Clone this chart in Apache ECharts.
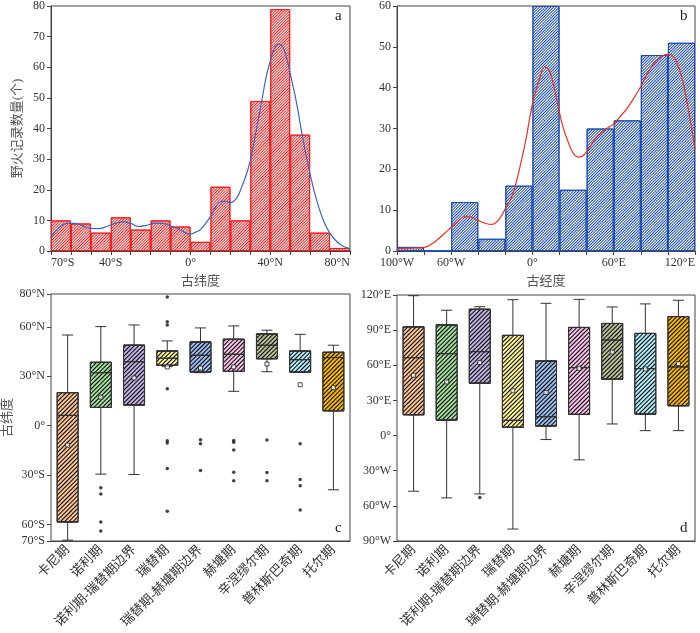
<!DOCTYPE html>
<html>
<head>
<meta charset="utf-8">
<script src="https://cdn.jsdelivr.net/npm/echarts@6/dist/echarts.min.js"></script>
<style>
  html, body { margin: 0; padding: 0; background: #fff; }
  #chart { width: 700px; height: 633px; }
</style>
</head>
<body>
<div id="chart"></div>
<script>
// ---- data ----
// a: paleolatitude histogram, 10 degree bins from 70S to 80N
var latBinStart = [-70, -60, -50, -40, -30, -20, -10, 0, 10, 20, 30, 40, 50, 60, 70];
var latCounts = [10, 9, 6, 11, 7, 10, 8, 3, 21, 10, 49, 79, 38, 6, 1];
var latCurve = [
	[-70, 4.5], [-66, 7.6], [-62, 9.0], [-58, 9.0], [-54, 8.2], [-50, 7.4], [-46, 7.3],
	[-42, 8.0], [-38, 9.0], [-34, 9.5], [-30, 9.0], [-26, 8.0], [-22, 8.4], [-18, 9.1],
	[-14, 9.0], [-10, 8.2], [-6, 7.2], [-2, 5.8], [0, 5.5], [2, 6.0], [5, 7.0], [10, 11.2],
	[14, 15.6], [17, 16.3], [20, 15.8], [23, 17.2], [25, 19.8], [28, 25], [30, 29.6],
	[32, 36], [34, 43], [36, 50], [38, 57], [40, 62], [42, 66], [44, 67.5], [46, 67],
	[48, 63.5], [50, 58], [53, 49], [56, 38], [60, 25], [64, 15], [68, 8], [72, 4],
	[76, 1.7], [80, 0.8]
];
var latTicks = [-70, -60, -50, -40, -30, -20, -10, 0, 10, 20, 30, 40, 50, 60, 70, 80];
var latLabels = [-70, -40, 0, 40, 80];

// b: paleolongitude histogram, 20 degree bins from 100W to 120E
var lonBinStart = [-100, -80, -60, -40, -20, 0, 20, 40, 60, 80, 100];
var lonCounts = [1, 0, 12, 3, 16, 60, 15, 30, 32, 48, 51];
var lonCurve = [
	[-100, 0.6], [-90, 0.7], [-80, 0.9], [-75, 1.6], [-70, 2.8], [-65, 4.3], [-60, 5.8],
	[-55, 7.3], [-50, 8.4], [-45, 8.3], [-40, 7.5], [-35, 6.8], [-30, 6.5], [-25, 7.6],
	[-20, 10.4], [-15, 13.5], [-10, 19.5], [-5, 27], [0, 36], [5, 42], [9, 45], [12, 44.5],
	[15, 41.5], [18, 37], [22, 31], [26, 27], [30, 24], [34, 23], [38, 23.5], [42, 25.3],
	[46, 27.3], [50, 28.7], [55, 30], [60, 31.2], [65, 33], [70, 35], [75, 37.5], [80, 40.3],
	[85, 43.5], [90, 46], [95, 47.6], [100, 48.2], [104, 47.6], [108, 45], [112, 40],
	[116, 33], [120, 25]
];
var lonTicks = [-100, -80, -60, -40, -20, 0, 20, 40, 60, 80, 100, 120];
var lonLabels = [-100, -60, 0, 60, 120];

// c, d: periods
var periods = ['卡尼期', '诺利期', '诺利期-瑞替期边界', '瑞替期', '瑞替期-赫塘期边界', '赫塘期', '辛涅缪尔期', '普林斯巴奇期', '托尔期'];
var periodColors = ['#f9c596', '#a4dca0', '#c2b2e2', '#fff49a', '#9cbcec', '#f7c2e8', '#b9bd98', '#b2ecf6', '#f5b800'];

// c: latitude box stats [min, Q1, median, Q3, max]
var latBox = [
	[-69.5, -58.4, 6.3, 20.1, 55.1],
	[-29.4, 11.1, 32.2, 38.5, 60.2],
	[-29.6, 12.6, 38.9, 48.9, 61.2],
	[35.9, 36.7, 41.0, 45.4, 51.5],
	[32.2, 32.6, 42.8, 50.9, 59.4],
	[20.9, 33.0, 43.4, 52.5, 60.6],
	[32.8, 40.7, 48.9, 55.7, 58.0],
	[32.6, 32.6, 40.1, 45.4, 55.5],
	[-38.9, 9.1, 41.4, 44.6, 48.9]
];
var latMean = [-11.8, 17.4, 29.0, 35.7, 35.0, 35.7, 37.5, 24.9, 23.1];
var latOutliers = [
	[1, -37.7], [1, -41.4], [1, -58.4], [1, -63.9],
	[3, 78.2], [3, 63.2], [3, 61.2], [3, 22.5], [3, -9.1], [3, -10.5], [3, -25.9], [3, -51.9],
	[4, -8.5], [4, -10.9], [4, -27.2],
	[5, -8.9], [5, -10.1], [5, -14.8], [5, -28.2], [5, -33.4],
	[6, -8.7], [6, -28.4], [6, -33.4],
	[7, -10.9], [7, -32.6], [7, -36.5], [7, -51.1]
];
var latAxisLabels = [-70, -60, -30, 0, 30, 60, 80];

// d: longitude box stats [min, Q1, median, Q3, max]
var lonBox = [
	[-47.5, 17.8, 66.5, 92.8, 119.4],
	[-53.2, 13.3, 69.9, 94.5, 107.0],
	[-49.8, 44.7, 71.6, 107.8, 110.0],
	[-79.8, 7.1, 13.0, 85.5, 116.0],
	[-3.4, 8.2, 16.1, 63.7, 112.9],
	[-20.7, 18.1, 58.0, 92.3, 116.3],
	[9.9, 48.1, 81.5, 95.7, 109.8],
	[4.2, 18.4, 57.2, 87.2, 112.4],
	[4.2, 25.5, 58.6, 101.6, 115.5]
];
var lonMean = [51.5, 45.8, 62.3, 38.2, 36.8, 57.4, 71.3, 56.9, 61.4];
var lonOutliers = [[2, -52.9]];

// ---- helpers ----
function fmtLat(v) {
	if (v > 0) return v + '°N';
	if (v < 0) return (-v) + '°S';
	return '0°';
}
function fmtLon(v) {
	if (v > 0) return v + '°E';
	if (v < 0) return (-v) + '°W';
	return '0°';
}
function hatch(color, gap) {
	return {
		symbol: 'rect',
		symbolSize: 1,
		dashArrayX: [1, 0],
		dashArrayY: [1, gap],
		rotation: -Math.PI / 4,
		color: color
	};
}

var FONT = "'Liberation Serif', 'Noto Sans CJK SC', serif";
var axisLineStyle = { onZero: false, lineStyle: { color: '#444', width: 1 } };
var labelStyle = { color: '#333', fontSize: 12, fontFamily: FONT };
var nameStyle = { color: '#555', fontSize: 13, fontFamily: FONT };

var histA = latBinStart.map(function (s, i) { return [s + 5, latCounts[i]]; });
var histB = lonBinStart.map(function (s, i) { return [s + 10, lonCounts[i]]; });

// wide box (Q1..Q3 with median) and narrow whiskers
function bodyData(stats) {
	return stats.map(function (s, i) {
		return { value: [s[1], s[1], s[2], s[3], s[3]], itemStyle: { color: periodColors[i] } };
	});
}
function whiskerData(stats) {
	return stats.map(function (s) { return [s[0], s[1], s[1], s[3], s[4]]; });
}
function meanData(means) {
	return means.map(function (m, i) { return [i, m]; });
}

var dom = document.getElementById('chart');
var myChart = echarts.init(dom, null, { renderer: 'canvas' });

function catAxis(gridIndex, show) {
	return {
		type: 'category',
		gridIndex: gridIndex,
		data: periods,
		show: show,
		boundaryGap: true,
		axisLine: axisLineStyle,
		axisTick: { alignWithLabel: true, length: 4, lineStyle: { color: '#444' } },
		axisLabel: {
			rotate: 45, color: '#333', fontSize: 13, fontFamily: FONT, interval: 0, margin: 7
		},
		splitLine: { show: false }
	};
}

var option = {
	animation: false,
	textStyle: { fontFamily: FONT },
	grid: [
		{ left: 51, top: 5, width: 299, height: 246, show: true, borderColor: '#444', borderWidth: 1 },
		{ left: 397, top: 5, width: 298, height: 246, show: true, borderColor: '#444', borderWidth: 1 },
		{ left: 50, top: 294, width: 300, height: 247, show: true, borderColor: '#444', borderWidth: 1 },
		{ left: 397, top: 295, width: 298, height: 246, show: true, borderColor: '#444', borderWidth: 1 }
	],
	xAxis: [
		{
			type: 'value', gridIndex: 0, min: -70, max: 80, interval: 10,
			name: '古纬度', nameLocation: 'middle', nameGap: 24, nameTextStyle: nameStyle,
			axisLine: axisLineStyle,
			axisTick: { length: 4, customValues: latTicks, lineStyle: { color: '#444' } },
			axisLabel: Object.assign({ customValues: latLabels, formatter: fmtLat, margin: 6,
				alignMinLabel: 'left', alignMaxLabel: 'right' }, labelStyle),
			splitLine: { show: false }
		},
		{
			type: 'value', gridIndex: 1, min: -100, max: 120, interval: 20,
			name: '古经度', nameLocation: 'middle', nameGap: 24, nameTextStyle: nameStyle,
			axisLine: axisLineStyle,
			axisTick: { length: 4, customValues: lonTicks, lineStyle: { color: '#444' } },
			axisLabel: Object.assign({ customValues: lonLabels, formatter: fmtLon, margin: 6,
				alignMaxLabel: 'right' }, labelStyle),
			splitLine: { show: false }
		},
		catAxis(2, true),
		catAxis(3, true),
		catAxis(2, false),
		catAxis(3, false)
	],
	yAxis: [
		{
			type: 'value', gridIndex: 0, min: 0, max: 80, interval: 10,
			name: '野火记录数量(个)', nameLocation: 'middle', nameGap: 27, nameTextStyle: nameStyle,
			axisLine: axisLineStyle,
			axisTick: { show: true, length: 4, lineStyle: { color: '#444' } },
			axisLabel: Object.assign({ margin: 6 }, labelStyle),
			splitLine: { show: false }
		},
		{
			type: 'value', gridIndex: 1, min: 0, max: 60, interval: 10,
			axisLine: axisLineStyle,
			axisTick: { show: true, length: 4, lineStyle: { color: '#444' } },
			axisLabel: Object.assign({ margin: 6 }, labelStyle),
			splitLine: { show: false }
		},
		{
			type: 'value', gridIndex: 2, min: -70, max: 80, interval: 10,
			name: '古纬度', nameLocation: 'middle', nameGap: 37, nameTextStyle: nameStyle,
			axisLine: axisLineStyle,
			axisTick: { show: true, length: 4, customValues: latAxisLabels, lineStyle: { color: '#444' } },
			axisLabel: Object.assign({ margin: 6, customValues: latAxisLabels, formatter: fmtLat }, labelStyle),
			splitLine: { show: false }
		},
		{
			type: 'value', gridIndex: 3, min: -90, max: 120, interval: 30,
			axisLine: axisLineStyle,
			axisTick: { show: true, length: 4, lineStyle: { color: '#444' } },
			axisLabel: Object.assign({ margin: 6, formatter: fmtLon }, labelStyle),
			splitLine: { show: false }
		}
	],
	series: [
		{
			name: 'lat-hist', type: 'bar', xAxisIndex: 0, yAxisIndex: 0,
			data: histA, barWidth: '100%', barGap: '0%',
			itemStyle: { color: '#fff', borderColor: '#f02020', borderWidth: 1, decal: hatch('#f02020', 1) },
			emphasis: { disabled: true }, z: 2
		},
		{
			name: 'lat-kde', type: 'line', xAxisIndex: 0, yAxisIndex: 0,
			data: latCurve, smooth: 0.4, showSymbol: false,
			lineStyle: { color: '#3a66c4', width: 1.2 }, z: 3
		},
		{
			name: 'lon-hist', type: 'bar', xAxisIndex: 1, yAxisIndex: 1,
			data: histB, barWidth: '100%', barGap: '0%',
			itemStyle: { color: '#fff', borderColor: '#1f4fae', borderWidth: 1, decal: hatch('#1f4fae', 1) },
			emphasis: { disabled: true }, z: 2
		},
		{
			name: 'lon-kde', type: 'line', xAxisIndex: 1, yAxisIndex: 1,
			data: lonCurve, smooth: 0.4, showSymbol: false,
			lineStyle: { color: '#f03020', width: 1.2 }, z: 3
		},
		// c
		{
			name: 'lat-whisker', type: 'boxplot', xAxisIndex: 4, yAxisIndex: 2,
			data: whiskerData(latBox), boxWidth: [11, 11],
			itemStyle: { color: '#fff', borderColor: '#333', borderWidth: 1 },
			emphasis: { disabled: true }, z: 1
		},
		{
			name: 'lat-box', type: 'boxplot', xAxisIndex: 2, yAxisIndex: 2,
			data: bodyData(latBox), boxWidth: [21, 21],
			itemStyle: { borderColor: '#333', borderWidth: 1, decal: hatch('#000', 2) },
			emphasis: { disabled: true }, z: 2
		},
		{
			name: 'lat-mean', type: 'scatter', xAxisIndex: 2, yAxisIndex: 2,
			data: meanData(latMean), symbol: 'rect', symbolSize: 4,
			itemStyle: { color: '#fff', borderColor: '#222', borderWidth: 1 }, z: 4
		},
		{
			name: 'lat-outlier', type: 'scatter', xAxisIndex: 2, yAxisIndex: 2,
			data: latOutliers, symbol: 'circle', symbolSize: 3.5,
			itemStyle: { color: '#111' }, z: 4
		},
		// d
		{
			name: 'lon-whisker', type: 'boxplot', xAxisIndex: 5, yAxisIndex: 3,
			data: whiskerData(lonBox), boxWidth: [11, 11],
			itemStyle: { color: '#fff', borderColor: '#333', borderWidth: 1 },
			emphasis: { disabled: true }, z: 1
		},
		{
			name: 'lon-box', type: 'boxplot', xAxisIndex: 3, yAxisIndex: 3,
			data: bodyData(lonBox), boxWidth: [21, 21],
			itemStyle: { borderColor: '#333', borderWidth: 1, decal: hatch('#000', 2) },
			emphasis: { disabled: true }, z: 2
		},
		{
			name: 'lon-mean', type: 'scatter', xAxisIndex: 3, yAxisIndex: 3,
			data: meanData(lonMean), symbol: 'rect', symbolSize: 4,
			itemStyle: { color: '#fff', borderColor: '#222', borderWidth: 1 }, z: 4
		},
		{
			name: 'lon-outlier', type: 'scatter', xAxisIndex: 3, yAxisIndex: 3,
			data: lonOutliers, symbol: 'circle', symbolSize: 3.5,
			itemStyle: { color: '#111' }, z: 4
		}
	],
	graphic: [
		{ type: 'text', left: 335, top: 9, style: { text: 'a', font: '15px ' + FONT, fill: '#222' } },
		{ type: 'text', left: 680, top: 9, style: { text: 'b', font: '15px ' + FONT, fill: '#222' } },
		{ type: 'text', left: 335, top: 521, style: { text: 'c', font: '15px ' + FONT, fill: '#222' } },
		{ type: 'text', left: 680, top: 521, style: { text: 'd', font: '15px ' + FONT, fill: '#222' } }
	]
};

if (option && typeof option === 'object') {
	myChart.setOption(option, true);
}
</script>
</body>
</html>
